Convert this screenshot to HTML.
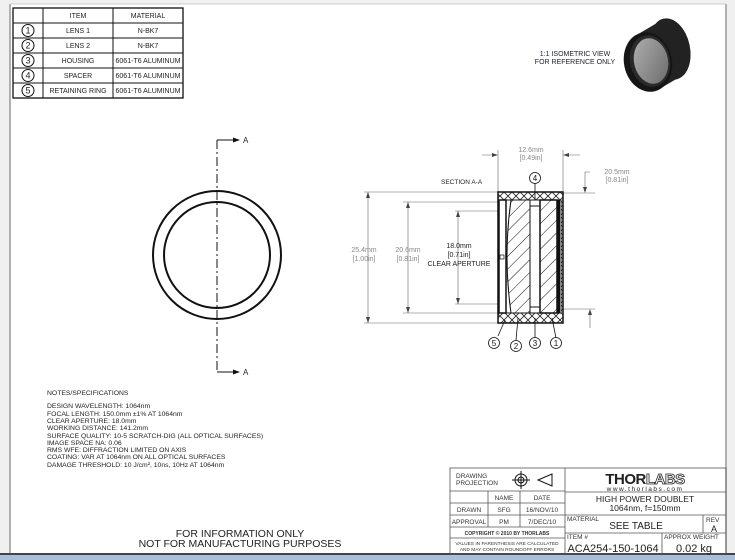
<!DOCTYPE html>
<html><head><meta charset="utf-8"><style>
body{margin:0;width:735px;height:560px;overflow:hidden;background:#fff;font-family:"Liberation Sans",sans-serif}
svg{display:block}
text{font-family:"Liberation Sans",sans-serif}
</style></head><body>
<svg width="735" height="560" viewBox="0 0 735 560" xmlns="http://www.w3.org/2000/svg">
<defs>
<pattern id="h" patternUnits="userSpaceOnUse" width="9" height="9" patternTransform="rotate(45)">
<rect width="9" height="9" fill="#fff"/><line x1="0" y1="0" x2="0" y2="9" stroke="#111" stroke-width="1"/></pattern>
<pattern id="x" patternUnits="userSpaceOnUse" width="8" height="8">
<rect width="8" height="8" fill="#fff"/><path d="M0 0L8 8M8 0L0 8" stroke="#222" stroke-width="0.8"/></pattern>
<linearGradient id="g" x1="0" y1="0" x2="1" y2="1"><stop offset="0" stop-color="#b0b0b0"/><stop offset="1" stop-color="#6a6a6a"/></linearGradient>
</defs>
<rect x="0" y="0" width="735" height="560" fill="#f0f0f0"/>
<rect x="10" y="4" width="716" height="550" fill="#fff"/>
<line x1="10" y1="4" x2="10" y2="554" stroke="#999" stroke-width="1.5"/>
<line x1="726" y1="4" x2="726" y2="554" stroke="#999" stroke-width="1.5"/>
<line x1="10" y1="4" x2="726" y2="4" stroke="#ccc"/>
<rect x="0" y="553" width="735" height="2" fill="#444"/>
<rect x="0" y="555" width="735" height="5" fill="#a9bfd9"/>
<g stroke="#111" stroke-width="1" fill="none">
<rect x="13" y="8" width="170" height="90" stroke-width="1.3"/>
<line x1="43" y1="8" x2="43" y2="98"/><line x1="113" y1="8" x2="113" y2="98"/>
<line x1="13" y1="23" x2="183" y2="23"/><line x1="13" y1="38" x2="183" y2="38"/><line x1="13" y1="53" x2="183" y2="53"/><line x1="13" y1="68" x2="183" y2="68"/><line x1="13" y1="83" x2="183" y2="83"/>
<circle cx="28" cy="30.5" r="6"/><circle cx="28" cy="45.5" r="6"/><circle cx="28" cy="60.5" r="6"/><circle cx="28" cy="75.5" r="6"/><circle cx="28" cy="90.5" r="6"/>
</g>
<g font-size="7" fill="#222" text-anchor="middle">
<text x="78" y="18">ITEM</text><text x="148" y="18">MATERIAL</text>
<text x="28" y="33.5" font-size="9">1</text><text x="28" y="48.5" font-size="9">2</text><text x="28" y="63.5" font-size="9">3</text><text x="28" y="78.5" font-size="9">4</text><text x="28" y="93.5" font-size="9">5</text>
<text x="78" y="33">LENS 1</text><text x="148" y="33">N-BK7</text>
<text x="78" y="48">LENS 2</text><text x="148" y="48">N-BK7</text>
<text x="78" y="63">HOUSING</text><text x="148" y="63">6061-T6 ALUMINUM</text>
<text x="78" y="78">SPACER</text><text x="148" y="78">6061-T6 ALUMINUM</text>
<text x="78" y="93">RETAINING RING</text><text x="148" y="93">6061-T6 ALUMINUM</text>
</g>
<text x="575" y="56" font-size="7" fill="#223" text-anchor="middle">1:1 ISOMETRIC VIEW</text>
<text x="575" y="64" font-size="7" fill="#223" text-anchor="middle">FOR REFERENCE ONLY</text>
<ellipse cx="670" cy="49" rx="20" ry="31" fill="#222" transform="rotate(-12 670 49)"/>
<line x1="648" y1="62" x2="670" y2="49" stroke="#222" stroke-width="58"/>
<ellipse cx="648" cy="62" rx="24" ry="30" fill="#151515" transform="rotate(-12 648 62)"/>
<ellipse cx="650" cy="61" rx="20" ry="26" fill="#2a2a2a" transform="rotate(-12 650 61)"/>
<ellipse cx="651" cy="61" rx="17" ry="23" fill="url(#g)" transform="rotate(-12 651 61)"/>
<circle cx="217" cy="255" r="64" fill="none" stroke="#111" stroke-width="2"/>
<circle cx="217" cy="255" r="53" fill="none" stroke="#111" stroke-width="2"/>
<line x1="217" y1="140" x2="217" y2="372" stroke="#111" stroke-width="1" stroke-dasharray="9,3,2,3"/>
<path d="M217 140H234M217 372H234" stroke="#111"/>
<path d="M240 140l-7-2.5v5zM240 372l-7-2.5v5z" fill="#111"/>
<text x="243" y="143" font-size="8" fill="#222">A</text><text x="243" y="375" font-size="8" fill="#222">A</text>
<text x="441" y="184" font-size="6.5" fill="#222">SECTION A-A</text>
<g stroke="#666" stroke-width="0.6" fill="none">
<line x1="364" y1="192" x2="498" y2="192"/><line x1="364" y1="323" x2="498" y2="323"/>
<line x1="403" y1="202" x2="498" y2="202"/><line x1="403" y1="313" x2="498" y2="313"/>
<line x1="455" y1="211" x2="498" y2="211"/><line x1="455" y1="304" x2="498" y2="304"/>
<line x1="368" y1="192" x2="368" y2="323"/><line x1="408" y1="202" x2="408" y2="313"/><line x1="458" y1="211" x2="458" y2="304"/>
<line x1="498" y1="150" x2="498" y2="192"/><line x1="563" y1="150" x2="563" y2="192"/>
<path d="M482 155H496M565 155H580"/>
<line x1="563" y1="193" x2="595" y2="193"/><line x1="563" y1="309" x2="595" y2="309"/>
<path d="M590 172H585V191M590 311V328"/>
</g>
<g fill="#444"><path d="M368 192l-2 6h4zM368 323l-2-6h4zM408 202l-2 6h4zM408 313l-2-6h4zM458 211l-2 6h4zM458 304l-2-6h4zM498 155l-6-2v4zM563 155l6-2v4zM585 193l-2-6h4zM590 309l-2 6h4z"/></g>
<g font-size="7" fill="#888" text-anchor="middle">
<text x="531" y="152">12.6mm</text><text x="531" y="160">[0.49in]</text>
<text x="617" y="174">20.5mm</text><text x="617" y="182">[0.81in]</text>
<text x="364" y="252">25.4mm</text><text x="364" y="261">[1.00in]</text>
<text x="408" y="252">20.6mm</text><text x="408" y="261">[0.81in]</text>
</g>
<g font-size="7" fill="#222" text-anchor="middle">
<text x="459" y="248">18.0mm</text><text x="459" y="257">[0.71in]</text><text x="459" y="266">CLEAR APERTURE</text>
</g>
<rect x="498" y="192" width="65" height="131" fill="url(#x)" stroke="#111" stroke-width="1.5"/>
<rect x="499" y="200" width="62" height="113" fill="#fff" stroke="#111"/>
<rect x="499" y="200" width="7" height="113" fill="#fff" stroke="#111" stroke-width="1.5"/>
<path d="M511 200Q503 256 511 313H530V200Z" fill="url(#h)" stroke="#111"/>
<rect x="530" y="200" width="10" height="113" fill="#fff" stroke="#111"/>
<rect x="530" y="200" width="10" height="6" fill="#fff" stroke="#111"/>
<rect x="530" y="307" width="10" height="6" fill="#fff" stroke="#111"/>
<rect x="540" y="200" width="17" height="113" fill="url(#h)" stroke="#111" stroke-width="1.5"/>
<rect x="557" y="200" width="3" height="113" fill="#111"/>
<rect x="500" y="255" width="4" height="4" fill="#fff" stroke="#111" stroke-width="0.7"/>
<g stroke="#111" stroke-width="0.8" fill="#fff">
<line x1="535" y1="183" x2="535" y2="200"/><circle cx="535" cy="178" r="5.5"/>
<line x1="498" y1="336" x2="505" y2="320"/><circle cx="494" cy="343" r="5.5"/>
<line x1="516" y1="340" x2="518" y2="318"/><circle cx="516" cy="346" r="5.5"/>
<line x1="535" y1="338" x2="535" y2="318"/><circle cx="535" cy="343" r="5.5"/>
<line x1="556" y1="338" x2="552" y2="318"/><circle cx="556" cy="343" r="5.5"/>
</g>
<g font-size="8" fill="#111" text-anchor="middle">
<text x="535" y="181">4</text><text x="494" y="346">5</text><text x="516" y="349">2</text><text x="535" y="346">3</text><text x="556" y="346">1</text>
</g>
<g font-size="6.8" fill="#222">
<text x="47" y="395">NOTES/SPECIFICATIONS</text>
<text x="47" y="408">DESIGN WAVELENGTH: 1064nm</text>
<text x="47" y="416">FOCAL LENGTH: 150.0mm ±1% AT 1064nm</text>
<text x="47" y="423">CLEAR APERTURE: 18.0mm</text>
<text x="47" y="430">WORKING DISTANCE: 141.2mm</text>
<text x="47" y="438">SURFACE QUALITY: 10-5 SCRATCH-DIG (ALL OPTICAL SURFACES)</text>
<text x="47" y="445">IMAGE SPACE NA: 0.06</text>
<text x="47" y="452">RMS WFE: DIFFRACTION LIMITED ON AXIS</text>
<text x="47" y="459">COATING: VAR AT 1064nm ON ALL OPTICAL SURFACES</text>
<text x="47" y="467">DAMAGE THRESHOLD: 10 J/cm², 10ns, 10Hz AT 1064nm</text>
</g>
<g font-size="10.5" fill="#222" text-anchor="middle">
<text x="240" y="537">FOR INFORMATION ONLY</text>
<text x="240" y="547">NOT FOR MANUFACTURING PURPOSES</text>
</g>
<g stroke="#555" stroke-width="0.8" fill="none">
<rect x="450" y="468" width="276" height="86"/>
<line x1="565" y1="468" x2="565" y2="554"/>
<line x1="450" y1="491" x2="565" y2="491"/><line x1="450" y1="503" x2="565" y2="503"/><line x1="450" y1="515" x2="565" y2="515"/><line x1="450" y1="527" x2="565" y2="527"/><line x1="450" y1="538" x2="565" y2="538"/>
<line x1="488" y1="491" x2="488" y2="527"/><line x1="520" y1="491" x2="520" y2="527"/>
<line x1="565" y1="492" x2="726" y2="492"/><line x1="565" y1="515" x2="726" y2="515"/><line x1="565" y1="533" x2="726" y2="533"/>
<line x1="703" y1="515" x2="703" y2="533"/><line x1="662" y1="533" x2="662" y2="554"/>
</g>
<g stroke="#111" stroke-width="1" fill="none">
<circle cx="521" cy="480" r="6"/><circle cx="521" cy="480" r="3"/><path d="M512 480H530M521 471V489"/>
<path d="M538 480L552 474V486Z"/>
</g>
<g font-size="6.5" fill="#333">
<text x="456" y="478">DRAWING</text><text x="456" y="485">PROJECTION</text>
<text x="504" y="500" text-anchor="middle">NAME</text><text x="542" y="500" text-anchor="middle">DATE</text>
<text x="469" y="512" text-anchor="middle">DRAWN</text><text x="504" y="512" text-anchor="middle">SFG</text><text x="542" y="512" text-anchor="middle">16/NOV/10</text>
<text x="469" y="524" text-anchor="middle">APPROVAL</text><text x="504" y="524" text-anchor="middle">PM</text><text x="542" y="524" text-anchor="middle">7/DEC/10</text>
<text x="507" y="535" text-anchor="middle" font-size="5" font-weight="bold">COPYRIGHT © 2010 BY THORLABS</text>
<text x="507" y="545" text-anchor="middle" font-size="4.8">VALUES IN PARENTHESIS ARE CALCULATED</text>
<text x="507" y="551" text-anchor="middle" font-size="4.8">AND MAY CONTAIN ROUNDOFF ERRORS</text>
<text x="567" y="521">MATERIAL</text><text x="567" y="539">ITEM #</text>
<text x="664" y="539">APPROX WEIGHT</text><text x="706" y="522">REV</text>
</g>
<text x="645" y="484" font-size="15" font-weight="bold" fill="#222" text-anchor="middle" letter-spacing="-0.5">THOR<tspan fill="#fff" stroke="#222" stroke-width="0.8">LABS</tspan></text>
<text x="645" y="491" font-size="6.5" fill="#222" text-anchor="middle" letter-spacing="1.5">www.thorlabs.com</text>
<g fill="#222" text-anchor="middle">
<text x="645" y="502" font-size="8.5">HIGH POWER DOUBLET</text>
<text x="645" y="511" font-size="8.5">1064nm, f=150mm</text>
<text x="636" y="529" font-size="10">SEE TABLE</text>
<text x="714" y="532" font-size="9">A</text>
<text x="613" y="552" font-size="11">ACA254-150-1064</text>
<text x="694" y="552" font-size="11">0.02 kg</text>
</g>
</svg>
</body></html>
